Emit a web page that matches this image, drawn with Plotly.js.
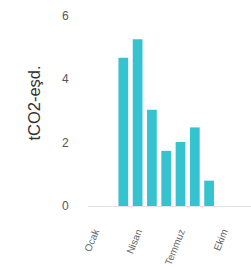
<!DOCTYPE html>
<html><head><meta charset="utf-8">
<script src="https://cdn.plot.ly/plotly-3.0.1.min.js"></script>
<style>html,body{margin:0;padding:0;overflow:hidden;background:#fff}#c{width:251px;height:267px}</style>
</head><body><div id="c"></div>
<script>
const months = [3, 4, 5, 6, 7, 8, 9];
const values = [4.68, 5.26, 3.04, 1.74, 2.02, 2.48, 0.80];
const tickMonths = [1, 4, 7, 10];
const tickLabels = ['Ocak', 'Nisan', 'Temmuz', 'Ekim'];
const yTicks = [0, 2, 4, 6];
const yTitle = 'tCO2-eşd.';

Plotly.newPlot('c', [{
  type: 'bar', x: months, y: values,
  marker: {color: '#35C3CF'}, hoverinfo: 'none'
}], {
  width: 251, height: 267,
  margin: {l: 88, r: 0, t: 0, b: 61},
  bargap: 0.32,
  paper_bgcolor: '#fff', plot_bgcolor: '#fff',
  font: {family: 'Liberation Sans, Arial, sans-serif', color: '#555'},
  xaxis: {
    range: [0.53, 11.93], tickvals: tickMonths, ticktext: tickLabels,
    tickangle: -68, ticks: 'outside', ticklen: 15, tickcolor: 'rgba(0,0,0,0)',
    showgrid: false, zeroline: false, showline: false,
    tickfont: {size: 10, color: '#666'}
  },
  yaxis: {
    range: [0, 6.5], tickvals: yTicks, showgrid: false,
    zeroline: true, zerolinecolor: '#e3e3e3', zerolinewidth: 1,
    ticks: 'outside', ticklen: 16, tickcolor: 'rgba(0,0,0,0)',
    tickfont: {size: 12, color: '#555'},
    title: {text: yTitle, font: {size: 16.5, color: '#333'}, standoff: 17}
  },
  showlegend: false
}, {staticPlot: true, displayModeBar: false});
</script></body></html>
